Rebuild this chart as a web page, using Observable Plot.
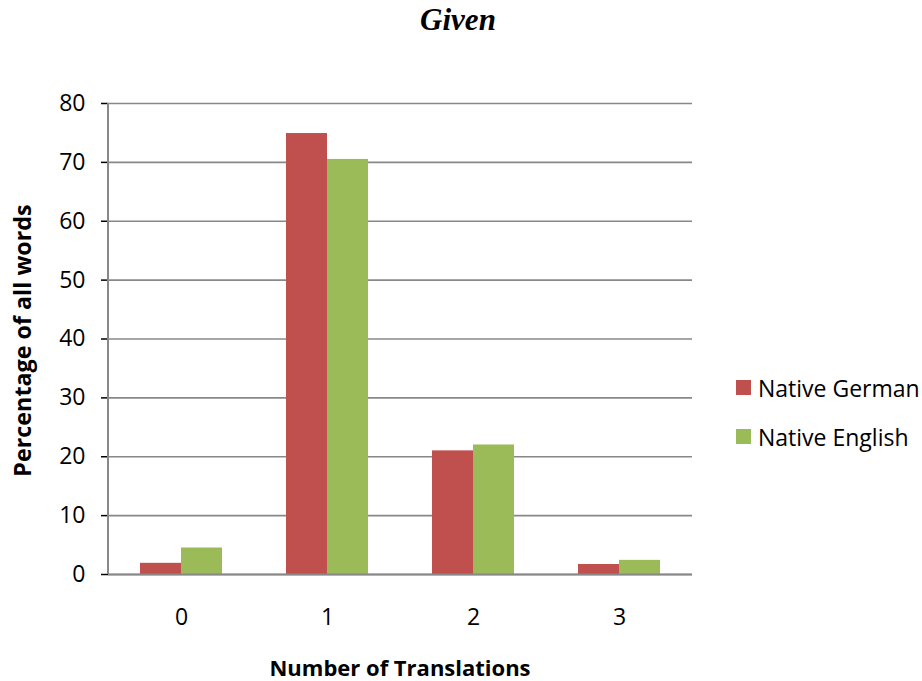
<!DOCTYPE html>
<html>
<head>
<meta charset="utf-8">
<script src="https://cdn.jsdelivr.net/npm/d3@7"></script>
<script src="https://cdn.jsdelivr.net/npm/@observablehq/plot@0.6"></script>
<style>
  html, body { margin: 0; padding: 0; background: #fff; }
  #chart svg { display: block; }
  g[aria-label="y-axis tick"] { stroke: #888888; stroke-width: 1.5px; }
</style>
</head>
<body>
<div id="chart"></div>
<script>
const title = "Given";
const categories = ["0", "1", "2", "3"];
const series = ["Native German", "Native English"];
const nativeGerman = [1.9, 74.9, 21.0, 1.7];
const nativeEnglish = [4.5, 70.5, 22.0, 2.4];
const colors = ["#C0504D", "#9BBB59"];
const yTicks = [0, 10, 20, 30, 40, 50, 60, 70, 80];
const xTitle = "Number of Translations";
const yTitle = "Percentage of all words";

const rows = [];
categories.forEach((c, i) => {
  rows.push({cat: c, series: series[0], value: nativeGerman[i]});
  rows.push({cat: c, series: series[1], value: nativeEnglish[i]});
});

const W = 922, H = 681;
const mL = 108, mR = 230, mT = 103, mB = 107;

const chart = Plot.plot({
  width: W, height: H,
  marginLeft: mL, marginRight: mR, marginTop: mT, marginBottom: mB,
  style: {fontFamily: "'Open Sans', sans-serif", fontSize: "23px", color: "#000", background: "#fff"},
  fx: {domain: categories, padding: 0, axis: "bottom", label: null, tickSize: 0, tickPadding: 34},
  x: {domain: series, paddingInner: 0, paddingOuter: 0.76, axis: null},
  y: {domain: [0, 80], ticks: yTicks, tickSize: 7, tickPadding: 16, label: null},
  color: {domain: series, range: colors},
  marks: [
    Plot.ruleY(yTicks, {stroke: "#888888", strokeWidth: 1.6}),
    Plot.barY(rows, {fx: "cat", x: "series", y: "value", fill: "series"}),
    Plot.ruleY([0], {stroke: "#888888", strokeWidth: 2})
  ]
});

document.getElementById("chart").appendChild(chart);

const svg = d3.select(chart);
const yS = chart.scale("y");
const y0 = yS.apply(0), y80 = yS.apply(80);

// y axis line
svg.append("line")
  .attr("x1", mL).attr("x2", mL)
  .attr("y1", y80).attr("y2", y0)
  .attr("stroke", "#888888").attr("stroke-width", 2);

// title
svg.append("text")
  .attr("x", 458).attr("y", 30)
  .attr("text-anchor", "middle")
  .attr("font-family", "'Liberation Serif', 'Times New Roman', serif")
  .attr("font-style", "italic").attr("font-weight", "bold")
  .attr("font-size", 31)
  .text(title);

// y title
svg.append("text")
  .attr("transform", `translate(31,${(y0 + y80) / 2 + 2}) rotate(-90)`)
  .attr("text-anchor", "middle")
  .attr("font-weight", "bold").attr("font-size", 23.3)
  .text(yTitle);

// x title
svg.append("text")
  .attr("x", mL + (W - mL - mR) / 2).attr("y", 676)
  .attr("text-anchor", "middle")
  .attr("font-weight", "bold").attr("font-size", 22)
  .text(xTitle);

// legend
const cS = chart.scale("color");
const legend = svg.append("g").attr("text-anchor", "start");
series.forEach((s, i) => {
  const top = 380 + i * 49;
  legend.append("rect")
    .attr("x", 736).attr("y", top)
    .attr("width", 15).attr("height", 15)
    .attr("fill", cS.apply(s));
  legend.append("text")
    .attr("x", 758).attr("y", top + 16.5)
    .attr("text-anchor", "start")
    .attr("font-size", 23)
    .text(s);
});
</script>
</body>
</html>
